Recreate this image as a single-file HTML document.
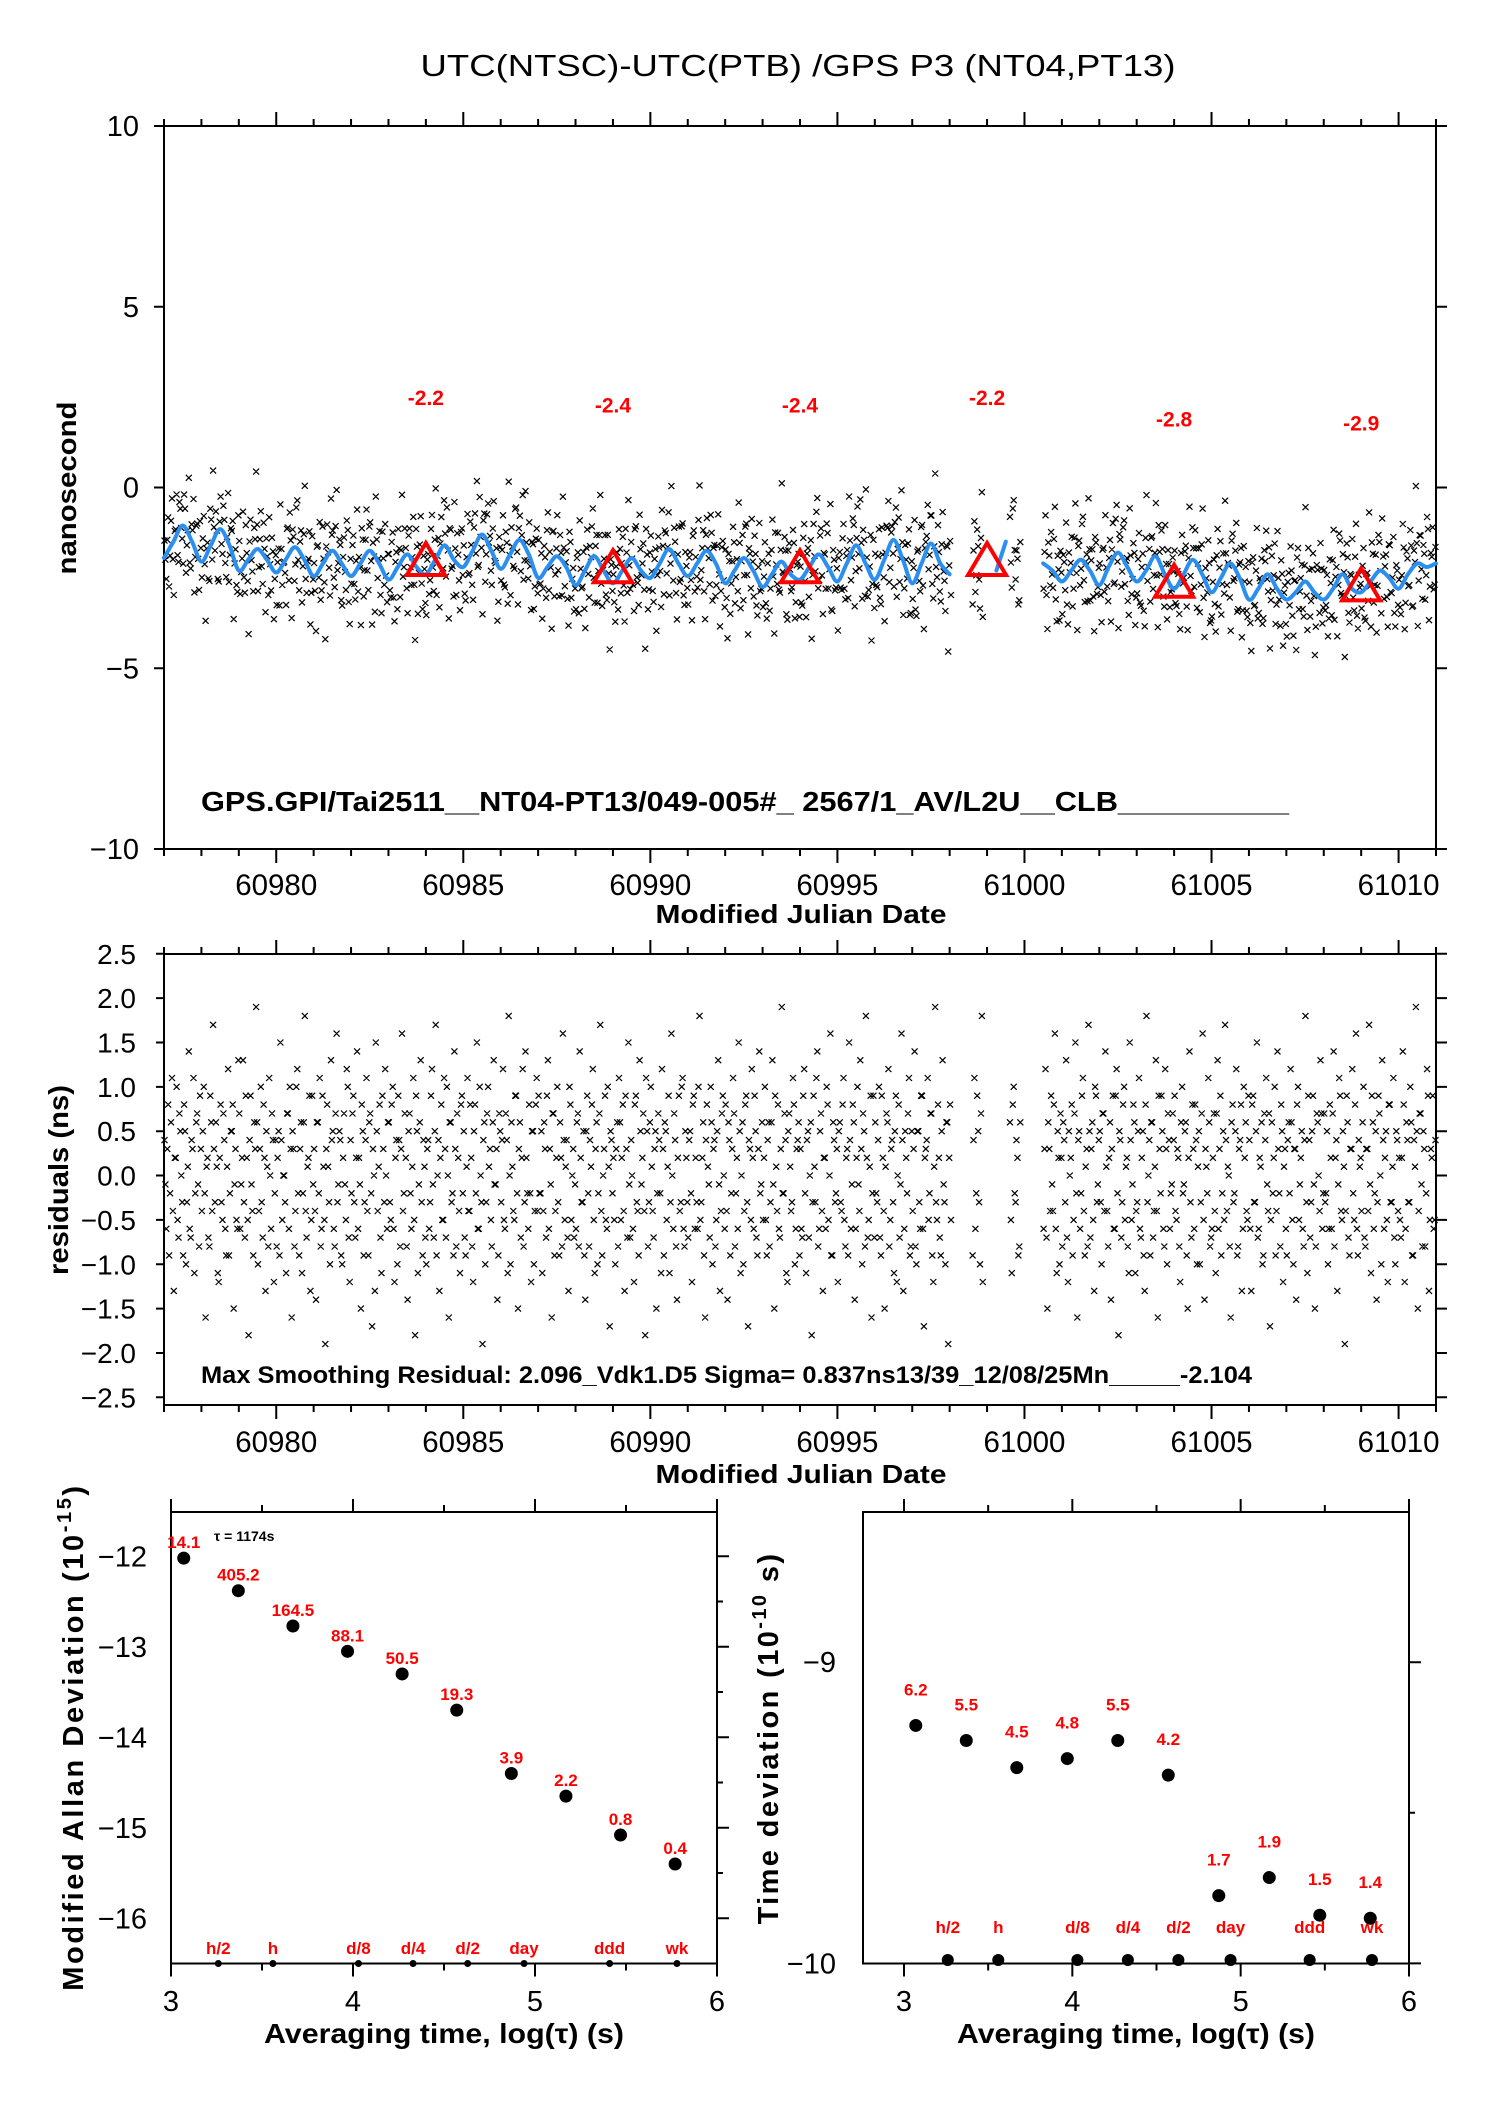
<!DOCTYPE html>
<html><head><meta charset="utf-8"><style>
html,body{margin:0;padding:0;background:#fff}
svg{display:block}
text{font-family:"Liberation Sans",Arial,sans-serif}
.b{font-weight:bold}
</style></head><body>
<svg id="chart" xmlns="http://www.w3.org/2000/svg" width="1488" height="2105" viewBox="0 0 1488 2105">
<rect x="0" y="0" width="1488" height="2105" fill="#fff"/>
<text x="798" y="76" font-size="31" text-anchor="middle" textLength="755" lengthAdjust="spacingAndGlyphs">UTC(NTSC)-UTC(PTB)  /GPS  P3  (NT04,PT13)</text>

<g id="top"></g>
<g id="mid"></g>
<g id="bl"></g>
<g id="br"></g>

<text class="b" x="201" y="811" font-size="28" textLength="1088" lengthAdjust="spacingAndGlyphs">GPS.GPI/Tai2511__NT04-PT13/049-005#_  2567/1_AV/L2U__CLB__________</text>
<text class="b" x="801" y="923" font-size="26" text-anchor="middle" textLength="291" lengthAdjust="spacingAndGlyphs">Modified Julian Date</text>
<text class="b" transform="translate(76,488) rotate(-90)" font-size="27" text-anchor="middle" textLength="173" lengthAdjust="spacingAndGlyphs">nanosecond</text>

<text class="b" x="201" y="1383" font-size="24" textLength="1051" lengthAdjust="spacingAndGlyphs">Max Smoothing Residual: 2.096_Vdk1.D5  Sigma= 0.837ns13/39_12/08/25Mn_____-2.104</text>
<text class="b" x="801" y="1483" font-size="26" text-anchor="middle" textLength="291" lengthAdjust="spacingAndGlyphs">Modified Julian Date</text>
<text class="b" transform="translate(68,1180) rotate(-90)" font-size="28" text-anchor="middle" textLength="190" lengthAdjust="spacingAndGlyphs">residuals (ns)</text>

<text class="b" x="444" y="2043" font-size="28" text-anchor="middle" textLength="360" lengthAdjust="spacingAndGlyphs">Averaging time, log(τ) (s)</text>
<text class="b" transform="translate(83,1737) rotate(-90)" font-size="29" letter-spacing="2.6" text-anchor="middle">Modified Allan Deviation (10<tspan dy="-12" font-size="20">-15</tspan><tspan dy="12">)</tspan></text>
<text class="b" x="1136" y="2043" font-size="28" text-anchor="middle" textLength="358" lengthAdjust="spacingAndGlyphs">Averaging time, log(τ) (s)</text>
<text class="b" transform="translate(778,1738) rotate(-90)" font-size="29" letter-spacing="2.4" text-anchor="middle">Time deviation (10<tspan dy="-12" font-size="20">-10</tspan><tspan dy="12"> s)</tspan></text>
<text class="b" x="214" y="1541" font-size="14">τ = 1174s</text>
</svg>
<script>
// ---------- data ----------
const mjdStart = 60977, mjdEnd = 61011;
const perDay = 20;
// residuals (ns), epochs at day + (i+0.25)/20, null = no data
const residuals = [
0.4,-0.6,0.8,-0.2,1.1,-1.3,0.2,-0.5,0.7,0.0,-0.9,0.5,-0.3,1.4,-0.7,0.3,-1.1,0.6,-0.1,0.9,
-0.4,1.0,-1.6,0.2,-0.8,0.6,1.7,-0.3,0.1,-1.2,0.8,-0.5,0.4,-0.9,1.2,-0.2,0.5,-1.5,0.3,-0.6,
0.7,-0.1,1.3,-0.7,0.2,-1.8,0.9,-0.4,0.6,1.9,-1.0,0.3,-0.3,0.8,-1.3,0.1,1.1,-0.6,0.4,-0.2,
-0.8,0.5,1.5,-0.5,0.0,-1.1,0.7,1.0,-1.6,0.3,-0.4,1.2,-0.9,0.6,-0.2,1.8,-0.7,0.2,-1.3,0.9,
0.3,-1.4,0.6,1.1,-0.6,0.1,-1.9,0.8,-0.3,1.3,0.5,-0.8,1.6,-0.1,0.4,-1.0,0.7,-0.5,1.0,-1.2,
-0.2,0.9,-0.7,1.4,0.2,-1.5,0.5,-0.3,1.1,-0.9,0.7,-1.7,0.0,1.5,-0.4,0.8,-1.1,0.3,1.2,-0.6,
0.6,-0.5,1.0,-1.2,0.4,0.9,-0.8,1.6,-0.2,0.2,-1.4,0.7,-0.6,1.1,-1.8,0.5,-0.1,1.3,-0.9,0.1,
-1.0,0.4,-0.3,1.2,-0.7,1.7,0.0,-1.3,0.8,-0.5,0.3,1.0,-1.6,0.6,-0.2,1.4,-0.8,0.2,-1.1,0.9,
0.5,-0.9,1.1,-0.4,0.2,-1.2,0.8,1.5,-0.6,0.0,-1.9,0.6,-0.3,1.0,0.3,-0.8,1.3,-0.1,-1.4,0.7,
-0.3,1.2,-0.6,0.4,1.8,-1.0,0.1,-0.5,0.9,-1.5,0.6,0.2,-0.8,1.4,-0.2,0.8,-1.2,0.5,-0.4,1.1,
0.9,-0.2,-1.1,0.6,-0.7,1.3,0.3,-1.6,0.7,-0.4,1.0,-0.9,0.2,1.6,-0.5,0.4,-1.3,0.8,0.0,-0.7,
-0.6,0.7,1.4,-0.3,0.5,-1.4,0.9,-0.8,0.1,1.2,-1.1,0.6,-0.2,1.7,-0.9,0.3,-0.5,1.0,-1.7,0.4,
0.2,-1.0,0.6,1.1,-0.5,0.8,-1.3,0.3,1.5,-0.7,0.0,-1.2,0.9,-0.4,1.3,-0.1,0.7,-1.8,0.5,-0.3,
1.0,-0.4,0.3,-1.5,0.7,-0.2,1.2,-0.9,0.5,0.1,-1.1,1.6,-0.6,0.4,-1.4,0.9,-0.3,1.1,-0.8,0.2,
-0.7,0.5,-1.2,0.9,0.2,-0.6,1.8,-0.3,0.6,-1.6,0.8,-0.1,1.0,-1.0,0.4,-0.5,1.3,-1.3,0.7,0.0,
0.8,-1.4,0.4,-0.2,1.1,-0.8,0.2,1.5,-1.1,0.6,-0.4,0.9,-1.7,0.3,1.2,-0.6,0.5,-0.9,1.4,-0.1,
-0.5,1.0,-0.9,0.6,-0.3,1.3,-1.5,0.1,0.8,-0.7,1.9,-0.2,0.4,-1.2,0.7,-0.4,1.1,-1.0,0.3,0.6,
0.3,-0.7,1.2,-1.1,0.5,0.0,-1.8,0.9,-0.3,1.4,-0.6,0.7,-1.3,0.2,1.0,-0.5,1.6,-0.9,0.4,-0.2,
-1.2,0.6,-0.4,1.1,-0.8,0.3,1.5,-0.6,0.8,-1.4,0.2,-0.1,1.3,-1.0,0.5,1.8,-0.7,0.1,-1.6,0.9,
0.6,-0.3,1.0,-0.9,0.2,-1.5,0.7,1.2,-0.5,0.4,-1.1,0.9,0.0,-0.7,1.6,-1.3,0.5,-0.2,1.1,-0.8,
-0.4,1.4,-1.0,0.5,-0.6,0.9,-1.7,0.3,1.1,-0.2,0.7,-1.2,1.9,-0.5,0.2,-0.9,1.3,-0.3,0.6,-1.9,
0.8,null,null,null,null,null,null,null,null,null,null,null,-0.9,1.1,-0.2,0.5,-1.0,1.8,null,null,
null,null,null,null,null,null,null,null,null,null,null,null,0.6,-1.1,1.0,-0.3,0.2,-0.8,null,null,
null,null,null,null,null,null,null,null,null,null,-0.6,1.2,-1.5,0.3,0.9,-0.4,1.6,-1.1,0.2,0.7,
-0.8,0.4,1.3,-1.2,0.0,0.8,-0.5,1.5,-1.6,0.5,-0.2,1.1,-0.9,0.3,1.7,-0.7,0.6,-1.3,0.9,-0.1,
0.5,-1.0,0.7,1.4,-0.4,0.2,-1.4,0.9,-0.6,1.2,-1.8,0.4,-0.3,1.0,0.1,-0.8,1.5,-0.5,0.8,-1.1,
-0.3,1.1,-0.7,0.5,-1.3,1.8,0.0,-0.9,0.6,-0.4,1.3,-1.6,0.3,0.9,-0.6,1.2,-1.0,0.4,-0.2,0.7,
0.9,-0.5,0.2,-1.2,1.0,-0.1,0.6,-1.5,1.4,-0.7,0.3,0.8,-1.0,0.5,-0.3,1.6,-1.4,0.1,1.1,-0.8,
-0.6,0.7,-1.1,1.3,0.3,-0.9,0.5,1.7,-0.4,0.0,-1.6,0.8,-0.2,1.2,-0.8,0.4,-1.3,1.0,0.6,-0.5,
0.4,-1.3,0.9,-0.3,1.5,-0.6,0.1,-1.0,0.7,1.1,-0.4,-1.7,0.6,0.2,-0.9,1.4,-0.2,0.8,-1.2,0.3,
-0.9,0.6,1.2,-0.5,0.3,-1.4,1.0,-0.1,0.5,-0.8,1.8,-1.1,0.4,-0.3,0.9,-1.5,0.7,0.0,1.3,-0.6,
0.7,-0.2,-1.0,0.8,-0.6,1.4,0.2,-1.3,1.1,-0.4,0.5,-1.9,0.9,-0.7,0.3,1.2,-0.5,1.6,-0.9,0.1,
-0.4,1.0,-0.8,0.3,1.7,-1.1,0.6,-0.2,-1.4,0.9,0.0,1.3,-0.6,0.5,-1.2,0.8,-0.3,1.1,-1.0,0.4,
0.2,-0.7,1.4,-1.2,0.6,-0.3,1.0,-0.9,0.4,1.9,-1.5,0.7,-0.1,0.5,-0.8,1.2,-1.3,0.3,0.9,-0.5
];
// second set of residuals (ns), epochs at day + (i+0.75)/20
const residualsB = [
-0.1,0.3,-0.9,0.6,-0.4,0.2,1.0,-0.7,0.5,-0.3,0.8,-1.0,0.1,-0.6,0.4,1.1,-0.2,0.7,-0.8,0.3,
0.5,-0.2,0.1,-0.7,0.9,-0.4,0.3,0.6,-1.1,0.2,-0.3,0.7,-0.6,0.1,-0.9,0.5,0.8,-0.1,-0.5,1.3,
-0.6,0.2,-0.3,0.9,-0.5,0.4,-0.1,-0.9,0.3,0.6,-0.4,1.0,-0.7,0.2,0.5,-0.8,0.0,0.7,-1.2,0.4,
0.2,-0.9,0.4,0.0,-0.3,0.7,-0.6,0.3,0.5,-0.8,1.0,-0.2,0.3,-1.1,0.6,-0.4,0.1,0.9,-0.5,-0.1,
-0.4,0.6,-0.2,-0.8,0.9,-0.5,0.3,0.1,-1.0,0.4,-0.6,0.7,-0.3,0.5,-0.9,0.2,-0.1,1.2,-0.7,0.4,
0.7,-0.3,0.2,-0.6,-0.1,0.8,-0.9,0.4,-0.4,0.6,-0.2,0.3,-1.3,0.5,0.1,-0.7,0.9,-0.3,0.0,0.6,
-0.3,0.8,-0.6,0.2,-1.0,0.4,0.3,-0.4,0.7,-0.8,0.5,-0.2,0.1,-0.5,0.9,-1.1,0.6,-0.3,0.4,-0.7,
0.3,-0.6,0.9,-0.1,0.5,-0.9,0.4,0.2,-0.5,1.1,-0.7,0.0,0.6,-0.3,-0.9,0.3,0.7,-0.4,0.8,-0.2,
-0.7,0.1,-0.4,0.8,-0.8,0.5,-0.2,-0.6,1.0,-0.3,0.4,-1.0,0.7,0.1,-0.5,0.6,-0.1,0.3,-0.9,0.5,
0.4,-0.5,0.7,-1.1,0.0,0.6,-0.4,0.9,-0.2,0.3,-0.7,1.2,-0.3,0.2,-0.6,-0.2,0.5,-1.0,0.8,-0.4,
-0.2,0.5,-0.4,0.3,0.9,-0.6,-0.1,0.7,-0.9,0.2,-0.3,0.6,-0.8,0.4,0.1,-0.7,1.0,-0.5,0.3,-0.1,
0.6,-0.8,0.2,-0.3,-0.9,0.5,-0.2,0.4,0.8,-0.5,0.3,-1.0,0.7,-0.4,0.0,0.9,-0.6,0.1,0.5,-0.2,
-0.5,0.3,-0.8,0.6,0.2,-0.4,0.9,-0.7,-0.1,0.4,-0.6,0.8,-0.3,-0.9,0.5,0.2,-0.4,1.1,-0.8,0.6,
0.1,-0.7,0.5,-0.2,0.4,-1.1,0.3,0.6,-0.5,0.9,-0.3,0.0,0.7,-0.8,0.2,-0.4,1.0,-0.6,0.5,-0.3,
0.4,-0.2,0.8,-0.6,-0.3,1.0,-0.5,0.2,-0.9,0.4,0.1,-0.7,0.6,0.3,-0.8,0.5,-0.1,-0.4,0.9,-0.6,
-0.4,0.6,-0.9,0.3,0.7,-0.2,-0.6,0.5,0.0,-1.0,0.8,-0.3,0.4,-0.5,0.2,0.9,-0.7,0.3,-0.2,0.6,
0.2,-0.5,0.4,-0.8,0.6,-0.1,0.9,-0.4,-0.6,0.3,-0.2,0.7,-1.1,0.5,0.1,-0.3,0.8,-0.6,0.4,-0.9,
-0.6,0.9,-0.2,0.4,-0.7,0.6,-0.3,0.1,1.1,-0.8,0.5,-0.4,0.2,-0.6,0.8,0.0,-0.9,0.6,-0.3,0.3,
0.5,-0.3,0.8,-0.5,0.2,-0.9,0.4,-0.1,0.6,-0.6,1.0,-0.4,0.3,0.7,-0.8,0.2,-0.5,0.9,-0.2,-0.7,
-0.2,0.4,-0.7,0.9,-0.4,0.1,0.6,-0.8,0.3,-0.3,0.5,-1.2,0.8,-0.1,0.4,-0.6,0.2,0.7,-0.9,0.5,
0.3,-0.8,0.5,-0.3,0.9,-0.6,0.2,0.4,-0.5,0.7,-0.9,0.1,-0.3,0.8,-0.7,0.5,-0.1,-1.0,0.6,0.2,
-0.5,null,null,null,null,null,null,null,null,null,null,null,0.4,-0.6,0.9,-0.3,0.7,-1.2,null,null,
null,null,null,null,null,null,null,null,null,null,null,null,-0.5,0.8,-0.2,0.4,-0.9,0.6,null,null,
null,null,null,null,null,null,null,null,null,null,0.3,-0.7,0.6,-0.4,-0.1,0.8,-0.6,0.5,-1.0,0.2,
0.6,-0.3,-0.7,0.5,0.2,-0.9,0.7,-0.2,0.4,-0.6,0.9,-0.4,0.1,-0.8,0.5,0.3,-0.5,1.0,-0.3,0.4,
-0.3,0.7,-0.4,0.1,-0.8,0.6,0.3,-0.6,0.9,-0.2,0.5,-0.7,0.8,-0.5,0.2,-1.1,0.4,-0.1,0.6,-0.4,
0.5,-0.6,0.2,-0.9,0.8,-0.3,0.4,0.6,-0.7,0.1,-0.4,0.9,-0.2,0.5,-0.8,0.3,0.7,-0.6,-0.1,0.4,
-0.4,0.3,-0.8,0.6,-0.2,0.5,-0.9,0.2,-0.3,0.8,-0.6,0.4,0.1,-1.0,0.7,-0.5,0.3,-0.2,0.6,-0.7,
0.2,-0.4,0.7,-0.6,0.9,-0.2,-0.5,0.4,0.1,-0.8,0.6,-0.3,0.5,-0.9,0.3,0.8,-0.6,0.2,-0.4,0.9,
-0.6,0.8,-0.3,0.5,-0.7,0.2,0.6,-0.9,0.4,-0.1,0.7,-0.5,-0.2,1.0,-0.4,0.3,-0.8,0.5,0.1,-0.6,
0.4,-0.2,0.6,-1.0,0.3,0.8,-0.5,0.2,-0.6,0.4,-0.3,0.9,-0.7,0.5,-0.1,-0.8,0.6,-0.4,0.7,-0.2,
-0.3,0.5,-0.6,0.2,0.7,-0.8,0.4,-0.1,0.9,-0.5,0.1,-0.4,0.6,-0.9,0.3,-0.2,0.8,-0.6,0.4,0.2,
0.6,-0.7,0.3,-0.4,-0.1,0.9,-0.6,0.5,-0.3,0.7,-1.0,0.4,0.2,-0.5,0.8,-0.3,0.1,-0.7,0.5,-0.4,
-0.5,0.2,0.8,-0.6,0.4,-0.3,0.6,-0.9,0.1,0.5,-0.4,0.7,-0.8,0.3,-0.2,0.9,-0.5,0.2,-0.6,0.4
];
// smoothing curve (ns) sampled 4 per day starting at mjdStart (day+0, +0.25, +0.5, +0.75)
const smoothCurve = [
-1.95,-1.5,-1.05,-1.5, -2.05,-1.6,-1.15,-1.6, -2.3,-2.0,-1.7,-2.0, -2.35,-2.0,-1.65,-2.0,
-2.45,-2.1,-1.75,-2.1, -2.45,-2.1,-1.75,-2.1, -2.55,-2.2,-1.85,-2.2, -2.4,-2.0,-1.6,-2.0,
-2.2,-1.75,-1.3,-1.75, -2.25,-1.85,-1.45,-1.85, -2.5,-2.2,-1.9,-2.2, -2.7,-2.3,-1.9,-2.3,
-2.65,-2.3,-1.95,-2.3, -2.5,-2.1,-1.7,-2.1, -2.45,-2.1,-1.75,-2.1, -2.65,-2.3,-1.95,-2.3,
-2.75,-2.4,-2.05,-2.4, -2.55,-2.2,-1.85,-2.2, -2.6,-2.1,-1.6,-2.1, -2.55,-2.0,-1.45,-2.0,
-2.65,-2.1,-1.55,-2.1, -2.4,null,null,null, null,-2.3,-1.5,null, null,null,-2.1,-2.3,
-2.6,-2.3,-2.0,-2.3, -2.7,-2.2,-1.8,-2.2, -2.6,-2.3,-1.9,-2.4, -2.8,-2.4,-2.0,-2.4,
-2.9,-2.5,-2.1,-2.5, -3.1,-2.8,-2.4,-2.8, -3.1,-2.9,-2.6,-2.9, -3.1,-2.8,-2.4,-2.8,
-2.9,-2.6,-2.3,-2.5, -2.8,-2.4,-2.1,-2.2, -2.1
];
const triMjd = [60984, 60989, 60994, 60999, 61004, 61009];
const triVal = [-2.2, -2.4, -2.4, -2.2, -2.8, -2.9];
const triLabels = ['-2.2','-2.4','-2.4','-2.2','-2.8','-2.9'];

const logTau = [3.07,3.37,3.67,3.97,4.27,4.57,4.87,5.17,5.47,5.77];
const mdev = [-12.02,-12.38,-12.77,-13.05,-13.3,-13.7,-14.4,-14.65,-15.08,-15.4];
const mdevLabels = ['14.1','405.2','164.5','88.1','50.5','19.3','3.9','2.2','0.8','0.4'];
const tdev = [-9.21,-9.26,-9.35,-9.32,-9.26,-9.375,-9.775,-9.715,-9.84,-9.85];
const tdevLabels = ['6.2','5.5','4.5','4.8','5.5','4.2','1.7','1.9','1.5','1.4'];
const markLog = [3.26,3.56,4.03,4.33,4.63,4.94,5.41,5.78];
const markLabels = ['h/2','h','d/8','d/4','d/2','day','ddd','wk'];
const mjdTicks = [60980,60985,60990,60995,61000,61005,61010];
const topYTicks = [10,5,0,-5,-10];
const midYTicks = [2.5,2.0,1.5,1.0,0.5,0.0,-0.5,-1.0,-1.5,-2.0,-2.5];
const mdevYTicks = [-12,-13,-14,-15,-16];
const tdevYTicks = [-9,-10];
const logTicks = [3,4,5,6];

// ---------- scales ----------
const X1=164, X2=1436;
const xM = m => X1 + (m-mjdStart)*(X2-X1)/(mjdEnd-mjdStart);
const yTop = v => 487.5 - v*36.15;
const yMid = v => 953.8 + (2.5-v)*88.7;
const xL = v => 171 + (v-3)*182;
const yL = v => 1556.3 + (-12-v)*90.5;
const xR = v => 904 + (v-3)*168.33;
const yR = v => 1662.2 + (-9-v)*301.2;

const NS='http://www.w3.org/2000/svg';
function mk(parent, tag, attrs, txt){
  const e=document.createElementNS(NS,tag);
  for(const k in attrs) e.setAttribute(k, attrs[k]);
  if(txt!==undefined) e.textContent=txt;
  parent.appendChild(e); return e;
}
const fmtMinus = s => String(s).replace('-','\u2212');

function smoothAt(m){
  const p=(m-mjdStart)*4; const i=Math.floor(p); const f=p-i;
  let a=smoothCurve[i], b=smoothCurve[Math.min(i+1,smoothCurve.length-1)];
  if(a==null&&b==null) return -2.2;
  if(a==null) return b; if(b==null) return a;
  return a+(b-a)*f;
}
function eachPoint(cb){
  residuals.forEach((r,i)=>{ if(r!=null) cb(mjdStart+(i+0.25)/perDay, r); });
  residualsB.forEach((r,i)=>{ if(r!=null) cb(mjdStart+(i+0.75)/perDay, r); });
}

// ---------- top panel ----------
(function(){
  const g=document.getElementById('top');
  let el;
  el=mk(g,'rect',{x:X1,y:126,width:X2-X1,height:723,fill:'none',stroke:'#000','stroke-width':2});
  
  
  let tk='';
  for(let m=mjdStart;m<=mjdEnd;m++){
    const x=xM(m), L=(m%5===0)?14:7;
    tk+=`M${x} 126V${126-L}M${x} 849V${849+L}`;
  }
  topYTicks.forEach(v=>{const y=yTop(v);tk+=`M${X1} ${y}H${X1-10}M${X2} ${y}H${X2+11}`;});
  el=mk(g,'path',{d:tk,stroke:'#000','stroke-width':2,fill:'none'});
  
  
  mjdTicks.forEach(m=>{
    el=mk(g,'text',{x:xM(m),y:895,'font-size':30,'text-anchor':'middle',textLength:82,lengthAdjust:'spacingAndGlyphs'},String(m));
    
    
  });
  topYTicks.forEach(v=>{
    el=mk(g,'text',{x:139,y:yTop(v)+10,'font-size':29,'text-anchor':'end'},fmtMinus(v));
    
    
  });
  let d='';
  eachPoint((m,r)=>{
    const x=xM(m), y=yTop(smoothAt(m)+r*1.15);
    d+=`M${(x-3).toFixed(1)} ${(y-3).toFixed(1)}l6 6m0 -6l-6 6`;
  });
  el=mk(g,'path',{d:d,stroke:'#000','stroke-width':1.2,fill:'none'});
  
  
  let segs=[],cur=[];
  smoothCurve.forEach((v,i)=>{
    if(v==null){ if(cur.length) segs.push(cur); cur=[]; return; }
    cur.push([xM(mjdStart+i*0.25), yTop(v)]);
  });
  if(cur.length) segs.push(cur);
  let cd='';
  segs.forEach(p=>{
    cd+=`M${p[0][0].toFixed(1)} ${p[0][1].toFixed(1)}`;
    if(p.length===1){cd+='l0 0.1';return;}
    for(let i=0;i<p.length-1;i++){
      const p0=p[Math.max(i-1,0)],p1=p[i],p2=p[i+1],p3=p[Math.min(i+2,p.length-1)];
      const c1=[p1[0]+(p2[0]-p0[0])/6,p1[1]+(p2[1]-p0[1])/6];
      const c2=[p2[0]-(p3[0]-p1[0])/6,p2[1]-(p3[1]-p1[1])/6];
      cd+=`C${c1[0].toFixed(1)} ${c1[1].toFixed(1)} ${c2[0].toFixed(1)} ${c2[1].toFixed(1)} ${p2[0].toFixed(1)} ${p2[1].toFixed(1)}`;
    }
  });
  el=mk(g,'path',{d:cd,stroke:'#2b8ff0','stroke-width':4,fill:'none','stroke-linecap':'round'});
  
  
  triMjd.forEach((m,i)=>{
    const x=xM(m), y=yTop(triVal[i]);
    el=mk(g,'path',{d:`M${x} ${y-24}L${x+19} ${y+8}L${x-19} ${y+8}Z`,stroke:'#ff0000','stroke-width':4,fill:'none'});
    
    
    el=mk(g,'text',{x:x,y:y-162,'font-size':21,'font-weight':'bold',fill:'#ff0000','text-anchor':'middle'},triLabels[i]);
    
    
  });
})();

// ---------- residual panel ----------
(function(){
  const g=document.getElementById('mid');
  let el;
  el=mk(g,'rect',{x:X1,y:954,width:X2-X1,height:451,fill:'none',stroke:'#000','stroke-width':2});
  
  
  let tk='';
  for(let m=mjdStart;m<=mjdEnd;m++){
    const x=xM(m), L=(m%5===0)?14:7;
    tk+=`M${x} 954V${954-L}M${x} 1405V${1405+L}`;
  }
  midYTicks.forEach(v=>{const y=yMid(v);tk+=`M${X1} ${y}H${X1-8}M${X2} ${y}H${X2+11}`;});
  el=mk(g,'path',{d:tk,stroke:'#000','stroke-width':2,fill:'none'});
  
  
  mjdTicks.forEach(m=>{
    el=mk(g,'text',{x:xM(m),y:1452,'font-size':30,'text-anchor':'middle',textLength:82,lengthAdjust:'spacingAndGlyphs'},String(m));
    
    
  });
  midYTicks.forEach(v=>{
    el=mk(g,'text',{x:136,y:yMid(v)+10,'font-size':28,'text-anchor':'end'},fmtMinus(v.toFixed(1)));
    
    
  });
  let d='';
  eachPoint((m,r)=>{
    const x=xM(m), y=yMid(r);
    d+=`M${(x-3).toFixed(1)} ${(y-3).toFixed(1)}l6 6m0 -6l-6 6`;
  });
  el=mk(g,'path',{d:d,stroke:'#000','stroke-width':1.2,fill:'none'});
  
  
})();

// ---------- bottom panels ----------
function bottomPanel(id, xs, ys, bx1, bx2, yTicks, minorY, labels, vals, yTickX, prefix, markY, markR, markLabY){
  const g=document.getElementById(id);
  let el;
  el=mk(g,'rect',{x:bx1,y:1512,width:bx2-bx1,height:451.5,fill:'none',stroke:'#000','stroke-width':2});
  
  
  let tk='';
  for(let v=3;v<=6;v+=0.5){
    const x=xs(v), L=(v%1===0)?13:7;
    tk+=`M${x} 1512V${1512-L}M${x} 1963.5V${1963.5+L}`;
  }
  minorY.forEach(v=>{const y=ys(v);tk+=`M${bx2} ${y}H${bx2+(v%1===0?12:6)}`;});
  el=mk(g,'path',{d:tk,stroke:'#000','stroke-width':2,fill:'none'});
  
  
  logTicks.forEach(v=>{
    el=mk(g,'text',{x:xs(v),y:2011,'font-size':29,'text-anchor':'middle'},String(v));
    
    
  });
  yTicks.forEach(v=>{
    el=mk(g,'text',{x:yTickX,y:ys(v)+10,'font-size':29,'text-anchor':'end'},fmtMinus(v));
    
    
  });
  logTau.forEach((t,i)=>{
    const x=xs(t), y=ys(vals[i]);
    el=mk(g,'circle',{cx:x,cy:y,r:6.5,fill:'#000'});
    
    
    el=mk(g,'text',{x:x,y:y-(prefix==='mdev'?10:30),'font-size':17,'font-weight':'bold',fill:'#ff0000','text-anchor':'middle'},labels[i]);
    
    
  });
  markLog.forEach((t,i)=>{
    const x=xs(t);
    el=mk(g,'circle',{cx:x,cy:markY,r:markR,fill:'#000'});
    
    
    el=mk(g,'text',{x:x,y:markLabY,'font-size':17,'font-weight':'bold',fill:'#ff0000','text-anchor':'middle'},markLabels[i]);
    
    
  });
}
bottomPanel('bl', xL, yL, 171, 717, mdevYTicks, [-12,-12.5,-13,-13.5,-14,-14.5,-15,-15.5,-16], mdevLabels, mdev, 147, 'mdev', 1963.5, 3.5, 1954);
bottomPanel('br', xR, yR, 863, 1409, tdevYTicks, [-9,-9.5,-10], tdevLabels, tdev, 836, 'tdev', 1960, 6, 1933);
</script>
</body></html>
